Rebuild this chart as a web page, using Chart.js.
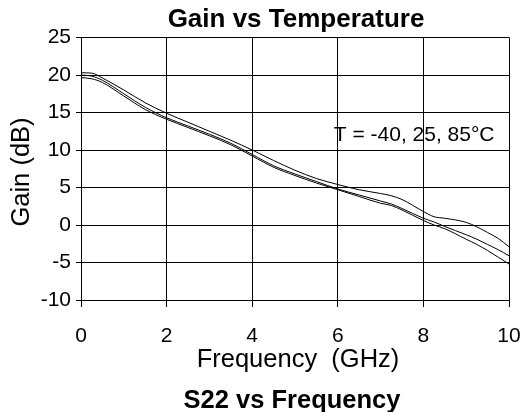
<!DOCTYPE html>
<html>
<head>
<meta charset="utf-8">
<script src="https://cdn.jsdelivr.net/npm/chart.js@4.4.1/dist/chart.umd.min.js"></script>
<style>
  html, body { margin: 0; padding: 0; background: #fff; }
</style>
</head>
<body>
<canvas id="chart" width="529" height="412"></canvas>
<script>
// Frequency points (GHz) and gain (dB) for the three temperatures
const freqs = [0, 0.25, 0.5, 1, 1.5, 2, 2.5, 3, 3.5, 4, 4.5, 5, 5.5, 6, 6.5, 7, 7.25, 7.5, 8, 8.25, 8.5, 9, 9.25, 9.5, 9.75, 10];
const gainCold = [20.3, 20.25, 19.6, 18.0, 16.3, 14.9, 13.7, 12.5, 11.3, 10.0, 8.6, 7.3, 6.2, 5.4, 4.7, 4.2, 3.9, 3.4, 1.8, 1.1, 0.9, 0.35, -0.25, -1.0, -1.8, -2.9];
const gainRoom = [20.0, 19.85, 19.3, 17.5, 15.7, 14.3, 13.2, 12.1, 10.9, 9.4, 7.9, 6.8, 5.8, 4.8, 4.0, 3.2, 2.8, 2.2, 0.9, 0.4, -0.2, -1.3, -1.9, -2.6, -3.3, -4.1];
const gainHot = [19.65, 19.5, 19.0, 17.2, 15.4, 14.1, 13.0, 11.9, 10.7, 9.2, 7.7, 6.6, 5.6, 4.7, 3.8, 2.9, 2.6, 2.0, 0.6, 0.0, -0.5, -1.9, -2.6, -3.4, -4.3, -5.2];

const xTicks = [0, 2, 4, 6, 8, 10];
const yTicks = [-10, -5, 0, 5, 10, 15, 20, 25];

const FONT = '"Liberation Sans", Arial, sans-serif';

const toPoints = vals => vals.map((v, i) => ({ x: freqs[i], y: v }));

const lineStyle = {
  borderColor: '#000',
  borderWidth: 1,
  pointRadius: 0,
  cubicInterpolationMode: 'monotone',
  fill: false,
};

// Titles, axis labels and the temperature note
const labelsPlugin = {
  id: 'labels',
  afterDraw(chart) {
    const ctx = chart.ctx;
    ctx.save();
    ctx.fillStyle = '#000';
    ctx.textBaseline = 'middle';
    ctx.textAlign = 'center';

    ctx.font = 'bold 26px ' + FONT;
    ctx.fillText('Gain vs Temperature', 296, 20);
    ctx.font = 'bold 25.5px ' + FONT;
    ctx.fillText('S22 vs Frequency', 292, 401);

    ctx.font = '25.5px ' + FONT;
    ctx.fillText('Frequency  (GHz)', 298, 360);

    ctx.save();
    ctx.translate(22, 172);
    ctx.rotate(-Math.PI / 2);
    ctx.fillText('Gain (dB)', 0, 0);
    ctx.restore();

    ctx.textAlign = 'left';
    ctx.font = '21px ' + FONT;
    ctx.fillText('T = -40, 25, 85\u00B0C', chart.scales.x.getPixelForValue(6) - 4, chart.scales.y.getPixelForValue(12));
    ctx.restore();
  },
};

new Chart(document.getElementById('chart'), {
  type: 'line',
  data: {
    datasets: [
      { label: '-40', data: toPoints(gainCold), ...lineStyle },
      { label: '25', data: toPoints(gainRoom), ...lineStyle },
      { label: '85', data: toPoints(gainHot), ...lineStyle },
    ],
  },
  options: {
    responsive: false,
    animation: false,
    layout: { padding: { top: 37.5, right: 20, bottom: 0, left: 0 } },
    plugins: {
      legend: { display: false },
      tooltip: { enabled: false },
    },
    scales: {
      x: {
        type: 'linear',
        min: 0,
        max: 10,
        afterFit: scale => {
          scale.height = 112;
          scale.paddingLeft = 0;
          scale.paddingRight = 0;
        },
        afterBuildTicks: scale => { scale.ticks = xTicks.map(v => ({ value: v })); },
        grid: { color: '#000', lineWidth: 1, tickLength: 7 },
        border: { color: '#000', width: 1 },
        ticks: { color: '#000', font: { family: FONT, size: 21 }, padding: 17, maxRotation: 0 },
      },
      y: {
        min: -10,
        max: 25,
        afterFit: scale => {
          scale.width = 81;
          scale.paddingTop = 0;
          scale.paddingBottom = 0;
        },
        afterBuildTicks: scale => { scale.ticks = yTicks.map(v => ({ value: v })); },
        grid: { color: '#000', lineWidth: 1, tickLength: 5 },
        border: { color: '#000', width: 1 },
        ticks: { color: '#000', font: { family: FONT, size: 21 }, padding: 5 },
      },
    },
  },
  plugins: [labelsPlugin],
});
</script>
</body>
</html>
